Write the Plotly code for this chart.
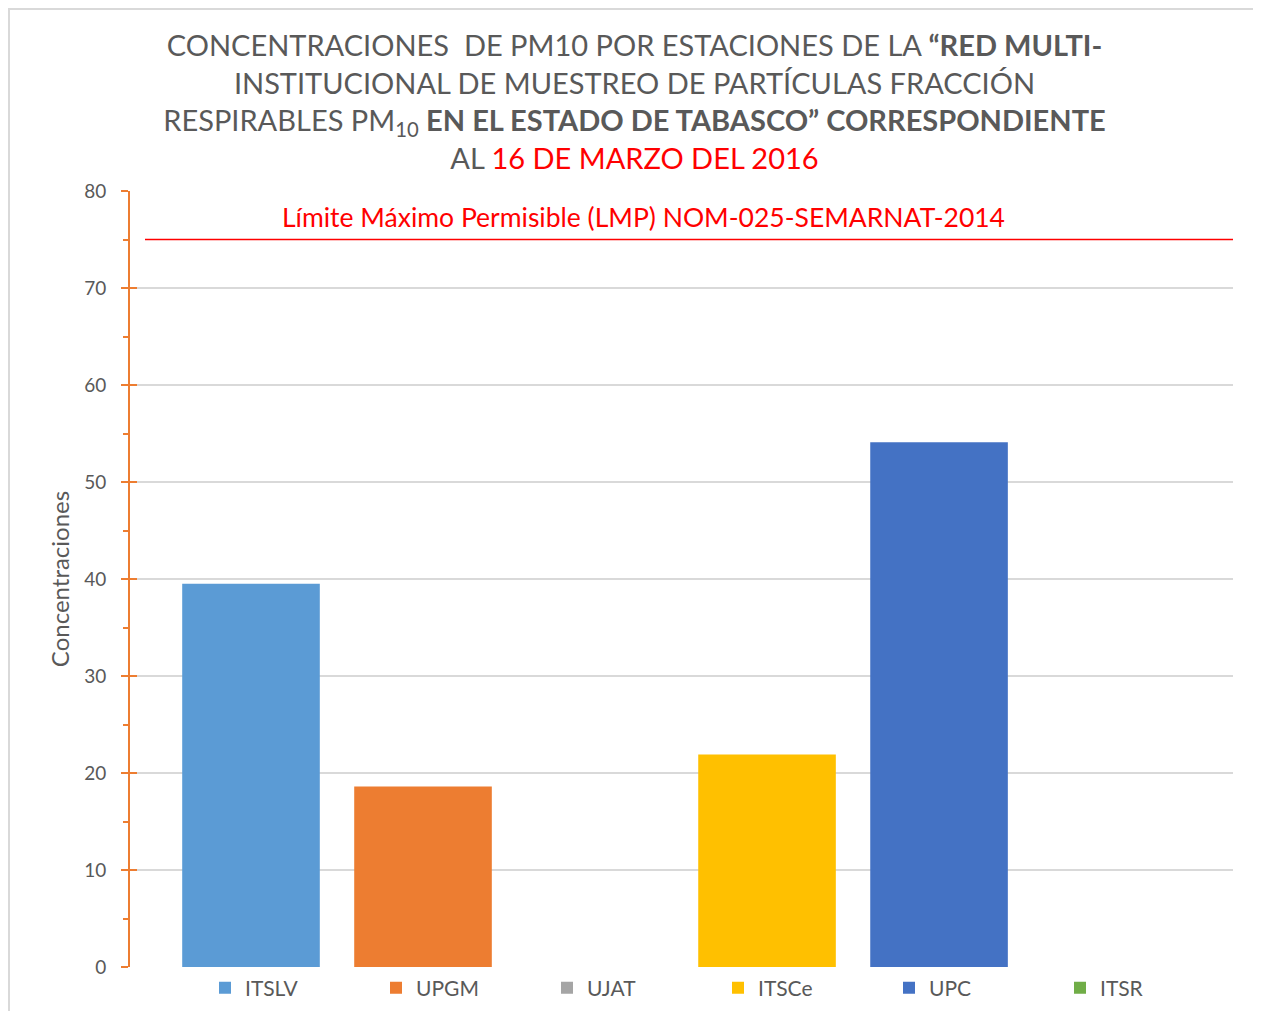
import plotly.graph_objects as go

stations = ["ITSLV", "UPGM", "UJAT", "ITSCe", "UPC", "ITSR"]
values = [39.5, 18.6, None, 21.9, 54.1, None]
colors = ["#5B9BD5", "#ED7D31", "#A5A5A5", "#FFC000", "#4472C4", "#70AD47"]
lmp_value = 75
lmp_label = "Límite Máximo Permisible (LMP) NOM-025-SEMARNAT-2014"
y_ticks = [0, 10, 20, 30, 40, 50, 60, 70, 80]

# page body adds 8px offset; figure drawn at (8,8)
W, H = 1253, 1003
ML, MR, MT, MB = 122, 28, 183, 44
PW, PH = W - ML - MR, H - MT - MB

def px_x(p):
    return (p - ML) / PW

def px_y(p):
    return 1 - (p - MT) / PH

FONT = "Lato"
GRAY = "#595959"
ORANGE = "#ED7D31"

fig = go.Figure()
for name, val, col in zip(stations, values, colors):
    fig.add_trace(go.Bar(
        x=[name], y=[val], name=name, marker=dict(color=col, line=dict(width=0)),
        width=0.8,
    ))
# empty helper trace so the inner half of the crossing ticks is drawn
fig.add_trace(go.Bar(x=[stations[0]], y=[None], yaxis="y2", showlegend=False, hoverinfo="skip"))

title_text = (
    "CONCENTRACIONES  DE PM10 POR ESTACIONES DE LA <b>“RED MULTI-</b><br>"
    "INSTITUCIONAL DE MUESTREO DE PARTÍCULAS FRACCIÓN<br>"
    "RESPIRABLES PM<sub>10</sub> <b>EN EL ESTADO DE TABASCO” CORRESPONDIENTE</b><br>"
    "AL <span style='color:#FF0000'>16 DE MARZO DEL 2016</span>"
)

fig.update_layout(
    width=W, height=H,
    margin=dict(l=ML, r=MR, t=MT, b=MB, autoexpand=False),
    paper_bgcolor="white", plot_bgcolor="white",
    barmode="overlay",
    font=dict(family=FONT, color=GRAY, size=18),
    title=dict(text=title_text, x=0.5, xanchor="center", xref="container",
               y=1 - 48 / H, yanchor="top", yref="container",
               font=dict(family=FONT, size=29, color=GRAY)),
    showlegend=True,
    legend=dict(orientation="h", x=px_x(197), xanchor="left", y=px_y(980), yanchor="middle",
                entrywidth=126, entrywidthmode="pixels", itemwidth=30,
                font=dict(family=FONT, size=21, color=GRAY), traceorder="normal",
                bgcolor="rgba(0,0,0,0)"),
    xaxis=dict(type="category", categoryorder="array", categoryarray=stations,
               range=[-0.7035, 5.709], showticklabels=False, ticks="",
               showgrid=False, zeroline=False, showline=False, fixedrange=True),
    yaxis=dict(range=[0, 80], tickvals=y_ticks, showgrid=True, gridcolor="#D9D9D9", gridwidth=1.5,
               zeroline=False, showline=True, linecolor=ORANGE, linewidth=2,
               ticks="outside", ticklen=7, tickwidth=2, tickcolor=ORANGE,
               minor=dict(dtick=5, ticks="outside", ticklen=5, tickwidth=2, tickcolor=ORANGE, showgrid=False),
               tickfont=dict(family=FONT, size=19, color=GRAY), ticklabelstandoff=11,
               title=dict(text="Concentraciones", font=dict(family=FONT, size=24, color=GRAY), standoff=8)),
    yaxis2=dict(range=[0, 80], tickvals=y_ticks, overlaying="y", side="left", anchor="x",
                showgrid=False, zeroline=False, showline=False, showticklabels=False,
                ticks="inside", ticklen=7, tickwidth=2, tickcolor=ORANGE),
)

# LMP reference line
fig.add_shape(type="line", xref="paper", yref="y", x0=px_x(137), x1=1, y0=lmp_value, y1=lmp_value,
              line=dict(color="#FF0000", width=1.5))
fig.add_annotation(text=lmp_label, xref="paper", yref="paper", x=px_x(635), y=px_y(209),
                   showarrow=False, font=dict(family=FONT, size=26.5, color="#FF0000"),
                   xanchor="center", yanchor="middle")

# outer chart border
fig.add_shape(type="rect", xref="paper", yref="paper", x0=px_x(1), y0=px_y(1030), x1=px_x(1280), y1=px_y(1),
              line=dict(color="#D9D9D9", width=2), fillcolor="rgba(0,0,0,0)", layer="below")

fig.write_html("out.html")
